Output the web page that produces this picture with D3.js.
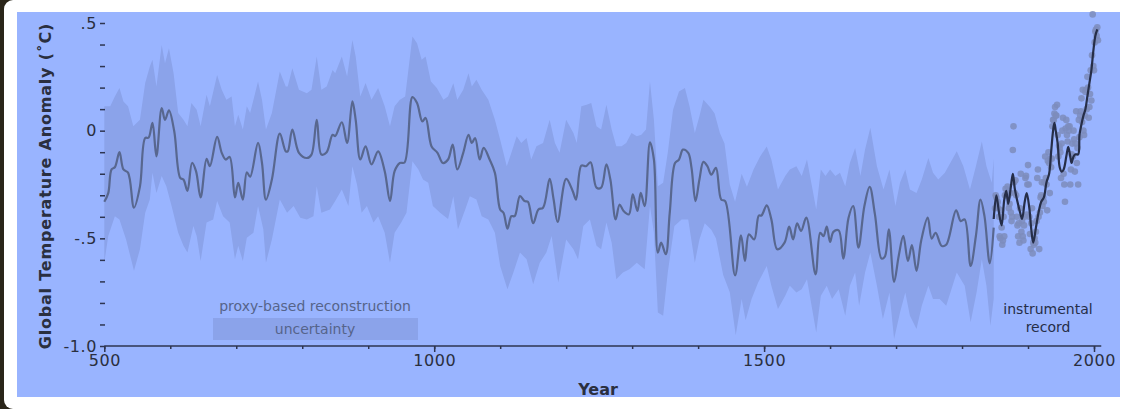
<!DOCTYPE html>
<html>
<head>
<meta charset="utf-8" />
<title>Millennial temperature</title>
<script src="https://d3js.org/d3.v7.min.js"></script>
<style>
  body { margin: 0; background: #2a2519; }
  text { font-family: "DejaVu Sans", Verdana, sans-serif; }
</style>
</head>
<body>
<svg id="chart" width="1129" height="409"></svg>
<script>

// proxy-based reconstruction (smoothed)
var reconYears = [500,506,511,516,523,529,536,545,554,562,567,573,579,587,592,598,606,615,620,626,633,639,646,655,660,671,678,684,690,698,703,710,716,721,733,739,745,754,766,775,778,785,795,807,814,822,829,837,846,850,860,868,876,881,888,896,905,915,925,933,940,948,955,967,974,982,987,996,1005,1013,1021,1028,1035,1044,1052,1057,1062,1069,1075,1084,1092,1100,1105,1111,1117,1122,1130,1137,1142,1150,1158,1165,1175,1181,1187,1200,1210,1215,1223,1230,1237,1246,1253,1261,1267,1275,1281,1287,1295,1301,1308,1313,1319,1327,1333,1339,1344,1351,1357,1365,1371,1377,1385,1390,1396,1402,1408,1414,1420,1427,1435,1441,1456,1465,1471,1477,1485,1492,1496,1504,1511,1520,1531,1538,1544,1550,1556,1564,1578,1585,1590,1595,1600,1605,1613,1620,1628,1635,1643,1652,1660,1668,1678,1683,1689,1697,1704,1711,1718,1724,1731,1738,1748,1754,1760,1769,1776,1791,1798,1804,1813,1821,1828,1834,1842,1848];
var reconValues = [-0.33,-0.29,-0.18,-0.17,-0.10,-0.18,-0.195,-0.357,-0.26,-0.034,-0.033,0.036,-0.119,0.105,0.05,0.094,-0.003,-0.219,-0.227,-0.28,-0.15,-0.188,-0.31,-0.131,-0.165,-0.029,-0.103,-0.134,-0.122,-0.31,-0.242,-0.32,-0.193,-0.214,-0.057,-0.15,-0.32,-0.227,-0.014,-0.096,-0.096,0.005,-0.103,-0.127,-0.111,0.05,-0.111,-0.10,-0.019,-0.025,0.039,-0.057,0.136,0.05,-0.134,-0.073,-0.157,-0.096,-0.188,-0.327,-0.188,-0.15,-0.148,0.156,0.128,0.043,0.059,-0.073,-0.103,-0.15,-0.134,-0.065,-0.18,-0.103,-0.019,-0.057,-0.034,-0.134,-0.08,-0.134,-0.196,-0.366,-0.381,-0.455,-0.397,-0.397,-0.304,-0.327,-0.33,-0.43,-0.366,-0.358,-0.224,-0.32,-0.424,-0.224,-0.281,-0.32,-0.162,-0.165,-0.147,-0.265,-0.265,-0.157,-0.227,-0.412,-0.343,-0.373,-0.389,-0.296,-0.373,-0.289,-0.35,-0.054,-0.134,-0.566,-0.52,-0.574,-0.381,-0.15,-0.134,-0.088,-0.103,-0.173,-0.327,-0.227,-0.145,-0.165,-0.204,-0.173,-0.32,-0.327,-0.672,-0.486,-0.605,-0.481,-0.505,-0.394,-0.394,-0.347,-0.412,-0.551,-0.52,-0.446,-0.505,-0.43,-0.466,-0.404,-0.667,-0.474,-0.49,-0.446,-0.517,-0.47,-0.463,-0.594,-0.404,-0.35,-0.543,-0.35,-0.261,-0.389,-0.594,-0.585,-0.458,-0.702,-0.582,-0.489,-0.605,-0.532,-0.651,-0.512,-0.404,-0.501,-0.474,-0.535,-0.53,-0.37,-0.42,-0.412,-0.628,-0.489,-0.32,-0.397,-0.616,-0.45];

// uncertainty envelope, upper edge
var upperYears = [500,509,516,523,529,536,544,554,562,569,573,579,587,592,598,605,612,620,626,632,640,646,655,660,671,678,685,693,698,703,710,716,721,733,739,745,754,766,775,778,785,795,807,814,822,829,837,846,850,860,868,876,881,888,896,905,915,925,933,940,948,956,967,974,981,987,995,1004,1014,1021,1029,1035,1044,1052,1057,1064,1072,1082,1092,1100,1110,1117,1125,1132,1140,1147,1155,1165,1175,1183,1190,1200,1211,1216,1223,1231,1238,1246,1253,1261,1269,1276,1284,1291,1299,1307,1314,1321,1327,1333,1339,1347,1354,1362,1371,1380,1387,1395,1402,1408,1418,1425,1433,1440,1448,1456,1466,1474,1484,1494,1504,1511,1521,1532,1539,1549,1557,1565,1579,1586,1593,1600,1608,1615,1623,1630,1638,1646,1653,1661,1671,1681,1690,1699,1706,1714,1721,1731,1739,1749,1756,1764,1774,1792,1802,1812,1821,1830,1837,1845,1848];
var upperValues = [0.113,0.113,0.159,0.198,0.136,0.113,0.02,0.051,0.221,0.298,0.329,0.205,0.398,0.313,0.383,0.267,0.082,0.051,0.02,0.128,0.097,0.02,0.167,0.113,0.259,0.19,0.144,0.159,0.02,0.074,0.005,0.113,0.082,0.228,0.144,0.005,0.082,0.275,0.205,0.205,0.29,0.19,0.174,0.19,0.344,0.19,0.205,0.282,0.267,0.344,0.251,0.421,0.344,0.159,0.221,0.144,0.198,0.113,0.02,0.113,0.144,0.159,0.437,0.406,0.329,0.344,0.228,0.198,0.144,0.159,0.22,0.144,0.19,0.267,0.205,0.236,0.19,0.144,0.051,-0.042,-0.165,-0.103,-0.026,-0.057,-0.034,-0.134,-0.072,-0.057,0.051,-0.057,-0.103,0.051,-0.011,-0.057,0.113,0.12,0.128,0.02,0.005,0.12,0.005,-0.072,-0.072,-0.057,-0.011,-0.026,-0.019,0.005,0.228,0.051,-0.258,-0.242,-0.103,0.097,0.182,0.198,0.113,-0.011,0.067,0.144,0.11,0.08,-0.011,-0.06,-0.25,-0.33,-0.2,-0.26,-0.18,-0.12,-0.073,-0.134,-0.273,-0.211,-0.18,-0.165,-0.211,-0.134,-0.366,-0.18,-0.211,-0.18,-0.211,-0.196,-0.258,-0.15,-0.08,-0.211,-0.088,0.013,-0.165,-0.273,-0.18,-0.35,-0.242,-0.18,-0.273,-0.289,-0.227,-0.127,-0.196,-0.227,-0.196,-0.096,-0.165,-0.273,-0.165,-0.05,-0.165,-0.242,-0.13];

// uncertainty envelope, lower edge
var lowerYears = [500,506,516,523,533,545,554,562,569,573,579,587,594,602,612,620,626,635,640,646,655,665,671,680,690,698,703,710,716,726,733,741,745,754,766,777,787,797,807,817,822,829,842,850,860,870,876,883,890,898,908,915,925,933,940,950,958,967,976,983,991,998,1009,1021,1029,1036,1047,1054,1064,1072,1082,1092,1100,1111,1120,1130,1140,1150,1160,1170,1178,1188,1200,1211,1218,1226,1236,1246,1253,1261,1269,1276,1286,1296,1307,1319,1327,1333,1339,1347,1354,1364,1375,1385,1395,1402,1410,1420,1427,1438,1448,1457,1466,1472,1481,1491,1504,1511,1521,1532,1539,1549,1557,1565,1579,1586,1595,1603,1613,1623,1630,1638,1644,1653,1661,1671,1680,1690,1697,1706,1714,1721,1731,1739,1749,1756,1766,1776,1792,1804,1813,1822,1830,1837,1843,1848];
var lowerValues = [-0.613,-0.489,-0.397,-0.412,-0.505,-0.651,-0.551,-0.381,-0.32,-0.196,-0.289,-0.211,-0.258,-0.35,-0.474,-0.535,-0.566,-0.443,-0.489,-0.605,-0.427,-0.412,-0.327,-0.397,-0.427,-0.597,-0.535,-0.605,-0.497,-0.474,-0.35,-0.458,-0.613,-0.505,-0.32,-0.381,-0.35,-0.404,-0.412,-0.397,-0.258,-0.381,-0.366,-0.327,-0.273,-0.35,-0.165,-0.25,-0.381,-0.35,-0.427,-0.397,-0.474,-0.613,-0.474,-0.427,-0.381,-0.142,-0.18,-0.227,-0.242,-0.35,-0.381,-0.41,-0.304,-0.458,-0.366,-0.304,-0.32,-0.397,-0.412,-0.474,-0.628,-0.736,-0.659,-0.566,-0.597,-0.713,-0.613,-0.566,-0.489,-0.705,-0.505,-0.551,-0.597,-0.443,-0.412,-0.535,-0.551,-0.427,-0.52,-0.69,-0.659,-0.643,-0.613,-0.643,-0.35,-0.474,-0.844,-0.859,-0.659,-0.443,-0.412,-0.412,-0.613,-0.505,-0.43,-0.46,-0.5,-0.67,-0.75,-0.95,-0.782,-0.88,-0.782,-0.705,-0.628,-0.72,-0.828,-0.767,-0.72,-0.751,-0.736,-0.69,-0.937,-0.767,-0.72,-0.782,-0.736,-0.86,-0.72,-0.659,-0.813,-0.659,-0.566,-0.72,-0.875,-0.751,-0.968,-0.844,-0.751,-0.86,-0.921,-0.813,-0.72,-0.782,-0.782,-0.813,-0.659,-0.72,-0.89,-0.751,-0.597,-0.72,-0.906,-0.78];

// instrumental record, smoothed
var instYears = [1848,1852,1856,1860,1864,1867,1870,1874,1877,1880,1884,1888,1891,1895,1898,1902,1905,1908,1912,1916,1920,1924,1928,1932,1935,1938,1940,1942,1945,1948,1951,1954,1958,1961,1964,1966,1969,1972,1976,1978,1981,1984,1987,1990,1993,1996,1999,2002,2005];
var instValues = [-0.41,-0.30,-0.38,-0.44,-0.32,-0.28,-0.34,-0.26,-0.20,-0.27,-0.33,-0.38,-0.41,-0.33,-0.29,-0.36,-0.46,-0.52,-0.45,-0.38,-0.33,-0.31,-0.24,-0.20,-0.10,0.00,0.036,0.0,-0.06,-0.17,-0.19,-0.18,-0.12,-0.075,-0.12,-0.15,-0.12,-0.11,-0.11,-0.02,0.03,0.07,0.10,0.16,0.22,0.28,0.37,0.44,0.47];

// instrumental record, annual values (dots), 1850-2006
var annualStart = 1850;
var annualValues = [-0.36,-0.30,-0.31,-0.34,-0.33,-0.36,-0.40,-0.49,-0.50,-0.37,-0.45,-0.53,-0.51,-0.40,-0.49,-0.30,-0.27,-0.30,-0.29,-0.26,
  -0.30,-0.36,-0.34,-0.29,-0.38,-0.42,-0.40,-0.09,0.02,-0.24,-0.29,-0.23,-0.30,-0.40,-0.44,-0.49,-0.43,-0.52,-0.36,-0.20,
  -0.47,-0.42,-0.49,-0.51,-0.44,-0.40,-0.22,-0.21,-0.39,-0.25,-0.16,-0.25,-0.40,-0.48,-0.55,-0.43,-0.36,-0.57,-0.52,-0.53,
  -0.50,-0.52,-0.47,-0.42,-0.22,-0.18,-0.40,-0.55,-0.38,-0.31,-0.30,-0.24,-0.35,-0.31,-0.33,-0.24,-0.12,-0.22,-0.25,-0.37,
  -0.14,-0.10,-0.15,-0.29,-0.13,-0.17,-0.13,0.02,0.05,0.05,0.08,0.11,0.07,0.07,0.12,-0.02,-0.12,-0.07,-0.08,-0.10,
  -0.22,-0.06,0.00,0.06,-0.20,-0.25,-0.33,0.01,0.05,-0.02,-0.05,0.02,0.00,0.02,-0.25,-0.18,-0.11,-0.06,-0.12,0.00,
  -0.04,-0.19,-0.06,0.09,-0.15,-0.08,-0.25,0.05,-0.03,0.07,0.09,0.15,0.04,0.19,0.00,-0.02,0.07,0.18,0.19,0.10,
  0.25,0.20,0.06,0.11,0.17,0.28,0.14,0.35,0.54,0.30,0.28,0.41,0.46,0.47,0.44,0.48,0.42];

var xTicksMajor = [500, 1000, 1500, 2000];
var yTickValues = [0.5, 0, -0.5, -1.0];
var yTickLabels = [".5", "0", "-.5", "-1.0"];

var svg = d3.select("#chart");

// card + panel
svg.append("rect").attr("x", 4).attr("y", 0).attr("width", 1160).attr("height", 409)
  .attr("rx", 9).attr("fill", "white");
svg.append("rect").attr("x", 17).attr("y", 12).attr("width", 1103).attr("height", 385)
  .attr("fill", "#99b4ff");

var x = d3.scaleLinear().domain([500, 2000]).range([104.3, 1094]);
var y = d3.scaleLinear().domain([-1, 0.5]).range([346, 23]);

var bandColor = "#8ba3ea";

// uncertainty band
var bandPts = upperYears.map(function(yr, i) { return [yr, upperValues[i]]; })
  .concat(lowerYears.map(function(yr, i) { return [yr, lowerValues[i]]; }).reverse());
svg.append("path")
  .attr("d", d3.line().x(function(d) { return x(d[0]); }).y(function(d) { return y(d[1]); })(bandPts) + "Z")
  .attr("fill", bandColor);

// annual instrumental dots
svg.append("g").selectAll("circle")
  .data(annualValues)
  .enter().append("circle")
  .attr("cx", function(d, i) { return x(annualStart + i); })
  .attr("cy", function(d) { return y(d); })
  .attr("r", 3.3)
  .attr("fill", "#7d8cbc")
  .attr("opacity", 0.85);

var lineGen = d3.line()
  .x(function(d) { return x(d[0]); })
  .y(function(d) { return y(d[1]); })
  .curve(d3.curveCatmullRom.alpha(0.5));

svg.append("path")
  .attr("d", lineGen(reconYears.map(function(yr, i) { return [yr, reconValues[i]]; })))
  .attr("fill", "none")
  .attr("stroke", "#58678f")
  .attr("stroke-width", 2.2);

svg.append("path")
  .attr("d", lineGen(instYears.map(function(yr, i) { return [yr, instValues[i]]; })))
  .attr("fill", "none")
  .attr("stroke", "#262e48")
  .attr("stroke-width", 2.2);

// x axis
var axisColor = "#2e3550";
svg.append("line")
  .attr("x1", x(500)).attr("x2", x(2011))
  .attr("y1", y(-1)).attr("y2", y(-1))
  .attr("stroke", axisColor).attr("stroke-width", 1.5);

var xAxis = svg.append("g")
  .attr("transform", "translate(0," + y(-1) + ")")
  .call(d3.axisBottom(x).tickValues(d3.range(500, 2001, 100)).tickSize(3).tickFormat(""));
xAxis.select(".domain").remove();
xAxis.selectAll("line").attr("stroke", axisColor).attr("stroke-width", 1.5);

var xAxisMajor = svg.append("g")
  .attr("transform", "translate(0," + y(-1) + ")")
  .call(d3.axisBottom(x).tickValues(xTicksMajor).tickSize(6).tickPadding(3).tickFormat(d3.format("d")));
xAxisMajor.select(".domain").remove();
xAxisMajor.selectAll("line").attr("stroke", axisColor).attr("stroke-width", 1.5);
xAxisMajor.selectAll("text")
  .attr("fill", "#2a2f40")
  .style("font-size", "16px")
  .style("letter-spacing", "0.6px")
  .style("font-family", "DejaVu Sans");

// y axis
var yAxis = svg.append("g")
  .attr("transform", "translate(" + 105 + ",0)")
  .call(d3.axisLeft(y).tickValues(d3.range(-10, 6).map(function(v) { return v / 10; })).tickSize(5).tickFormat(function(d) {
    var k = yTickValues.findIndex(function(t) { return Math.abs(t - d) < 1e-9; });
    return k >= 0 ? yTickLabels[k] : "";
  }).tickPadding(3));
yAxis.select(".domain").remove();
yAxis.selectAll("line").attr("stroke", axisColor).attr("stroke-width", 1.5);
yAxis.selectAll("text")
  .attr("fill", "#2a2f40")
  .style("font-size", "16px")
  .style("letter-spacing", "0.6px")
  .style("font-family", "DejaVu Sans");

// axis titles
svg.append("text")
  .attr("x", 598).attr("y", 395)
  .attr("text-anchor", "middle")
  .attr("fill", "#2a2f40")
  .style("font-size", "16px").style("font-weight", "bold")
  .text("Year");

svg.append("text")
  .attr("transform", "translate(51,186) rotate(-90)")
  .attr("text-anchor", "middle")
  .attr("fill", "#2a2f40")
  .style("font-size", "16px").style("font-weight", "bold")
  .style("letter-spacing", "0.8px")
  .text("Global Temperature Anomaly (˚C)");

// legend
svg.append("text")
  .attr("x", 315).attr("y", 311)
  .attr("text-anchor", "middle")
  .attr("fill", "#56648a")
  .style("font-size", "14px")
  .text("proxy-based reconstruction");
svg.append("rect")
  .attr("x", 213).attr("y", 318).attr("width", 205).attr("height", 22)
  .attr("fill", bandColor);
svg.append("text")
  .attr("x", 315).attr("y", 334)
  .attr("text-anchor", "middle")
  .attr("fill", "#56648a")
  .style("font-size", "14px")
  .text("uncertainty");

svg.append("text")
  .attr("x", 1048).attr("y", 314)
  .attr("text-anchor", "middle")
  .attr("fill", "#262e48")
  .style("font-size", "14px")
  .text("instrumental");
svg.append("text")
  .attr("x", 1048).attr("y", 332)
  .attr("text-anchor", "middle")
  .attr("fill", "#262e48")
  .style("font-size", "14px")
  .text("record");

</script>
</body>
</html>
